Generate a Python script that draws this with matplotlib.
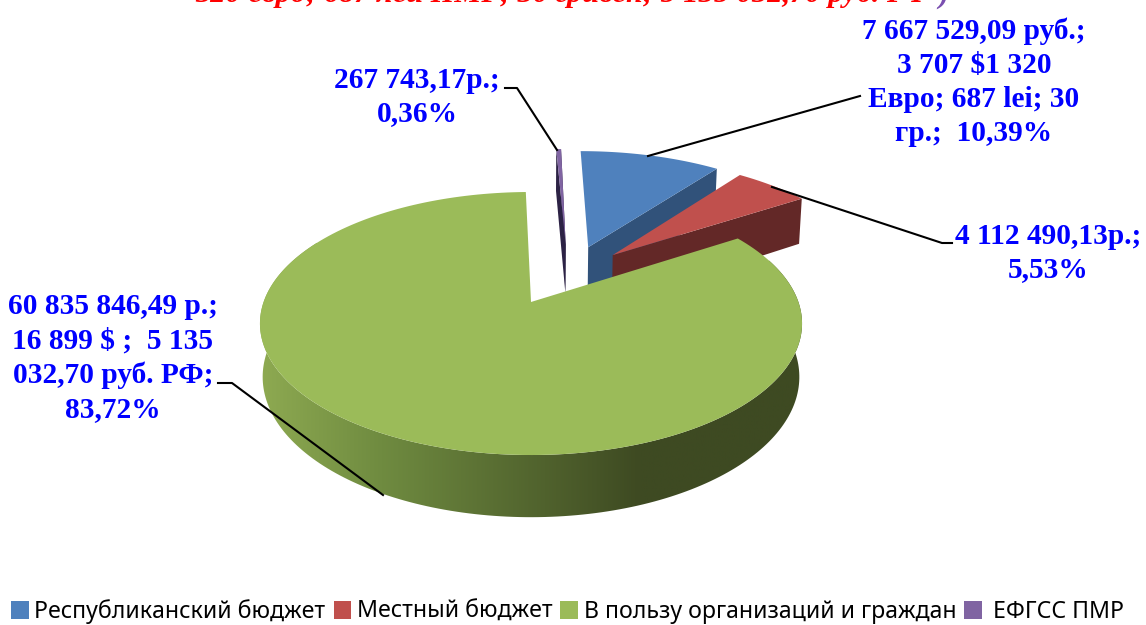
import numpy as np
import matplotlib
matplotlib.use("Agg")
import matplotlib.pyplot as plt
from matplotlib.colors import LinearSegmentedColormap
from matplotlib.patches import Patch, Polygon

categories = ["Республиканский бюджет", "Местный бюджет",
              "В пользу организаций и граждан", " ЕФГСС ПМР"]
shares = [10.39, 5.53, 83.72, 0.36]
labels = ["7 667 529,09 руб.;\n3 707 $1 320\nЕвро; 687 lei; 30\nгр.;  10,39%",
          "4 112 490,13р.;\n5,53%",
          "60 835 846,49 р.;\n16 899 $ ;  5 135\n032,70 руб. РФ;\n83,72%",
          "267 743,17р.;\n0,36%"]
title_line = "320 евро; 687 лей ПМР; 30 гривен; 5 135 032,70 руб. РФ"

top_colors = ["#4f81bd", "#c0504d", "#9bbb59", "#8064a2"]
side_colors = ["#31527a", "#632827", "#3e4a22", "#2c2245"]
# how far each slice is pulled out, in disc units
offsets = [(0.23, 0.46), (0.325, 0.39), (0.0, 0.0), (0.14, 0.485)]

# projection of the tilted pie
cx, cy = 531, 302
R, Rs, k, d = 267.4, 128, 0.1635, 52


def top_pt(X, Y):
    w = 1 + k * Y
    return cx + R * X / w, cy - Rs * Y / w


def bot_pt(X, Y):
    w = 1 + k * Y
    return cx + 0.99 * R * X / w, cy + (d - Rs * Y) / w


def arc(off, a, b, fn):
    t = np.radians(np.linspace(a, b, 200))
    return [fn(off[0] + np.sin(v), off[1] + np.cos(v)) for v in t]


def cut_face(off, a):
    t = np.radians(a)
    ex, ey = off[0] + np.sin(t), off[1] + np.cos(t)
    return [top_pt(*off), top_pt(ex, ey), bot_pt(ex, ey), bot_pt(*off)]


fig = plt.figure(figsize=(11.46, 6.25), dpi=100)
ax = fig.add_axes([0, 0, 1, 1])

edges = np.concatenate([[0], np.cumsum(shares)]) * 3.6 * 100 / np.sum(shares)
spans = [(edges[i], edges[i + 1]) for i in range(4)]

# back slices first, then the big one in front
for i in [3, 0, 1]:
    a, b = spans[i]
    off = offsets[i]
    ax.add_patch(Polygon(cut_face(off, b), fc=side_colors[i], ec="none"))
    if i == 3:
        ax.add_patch(Polygon(cut_face(off, a), fc=side_colors[i], ec="none"))
    pts = [top_pt(*off)] + arc(off, a, b, top_pt)
    ax.add_patch(Polygon(pts, fc=top_colors[i], ec="none"))

a, b = spans[2]
off = offsets[2]
wall = arc(off, 70, 300, top_pt) + arc(off, 70, 300, bot_pt)[::-1]
wall_patch = Polygon(wall, fc="none", ec="none")
ax.add_patch(wall_patch)
cmap = LinearSegmentedColormap.from_list(
    "wall", [(0, "#8fab52"), (0.23, "#6f8b40"), (0.7, "#3e4a22"), (1, "#3e4a22")])
img = ax.imshow(np.linspace(0, 1, 256)[None, :], extent=(255, 805, 530, 200),
                cmap=cmap, aspect="auto", zorder=1)
img.set_clip_path(wall_patch)
pts = [top_pt(*off)] + arc(off, a, b, top_pt)
ax.add_patch(Polygon(pts, fc=top_colors[2], ec="none", zorder=2))

# leader lines
for xs, ys in [([648, 860], [156, 96]),
               ([772, 942, 952], [187, 243, 243]),
               ([383, 232, 218], [495, 383, 383]),
               ([557, 517, 505], [150, 88, 88])]:
    ax.plot(xs, ys, color="black", lw=1.5, zorder=3)

font = {"family": "Liberation Serif", "weight": "bold", "color": "#0000ff",
        "fontsize": 21.2, "ha": "center", "va": "center", "linespacing": 1.33}
ax.text(974, 82, labels[0], **font)
ax.text(1048, 253, labels[1], **font)
ax.text(113, 358, labels[2], **font)
ax.text(417, 97, labels[3], **font)

title_font = {"family": "Liberation Serif", "weight": "bold", "style": "italic",
              "fontsize": 21.9, "ha": "left", "va": "baseline"}
ax.text(195, 2.5, title_line, color="#ff0000", **title_font)
ax.text(938, 2.5, ")", color="#7a4fb0", **title_font)

handles = [Patch(fc=c, ec="none") for c in top_colors]
ax.legend(handles, categories, loc="lower center", bbox_to_anchor=(0.4955, -0.032),
          ncol=4, frameon=False, prop={"family": "Noto Sans", "size": 16.65},
          handlelength=0.75, handleheight=0.8, handletextpad=0.25, columnspacing=0.35)

ax.set_xlim(0, 1146)
ax.set_ylim(625, 0)
ax.axis("off")
fig.savefig("out.png", dpi=100)
